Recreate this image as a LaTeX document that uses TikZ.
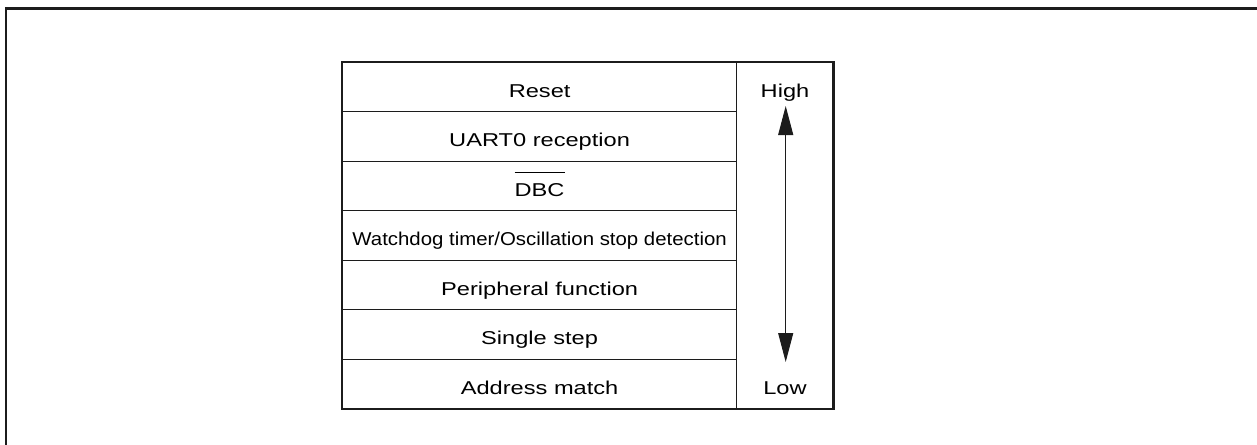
\documentclass[tikz,border=0pt]{standalone}
\usepackage{fontspec}
\setmainfont{Liberation Sans}[FakeStretch=1.27]
\newfontfamily\condensed{Liberation Sans}[FakeStretch=1.096]
\usetikzlibrary{arrows.meta}
\definecolor{ink}{HTML}{1C1C1C}
% text with a bar drawn well above the capitals
\newcommand\ovbar[1]{\setbox0\hbox{#1}\rlap{\rule[22.8pt]{\wd0}{1pt}}\box0}

\begin{document}
\begin{tikzpicture}[x=1pt,y=-1pt,
  labelfont/.style={font=\fontsize{18.6}{22}\selectfont},
  cell/.style={draw=ink, line width=1pt, minimum width=394.2pt, minimum height=49.5pt,
    inner sep=0pt, text height=20.5pt, text depth=0pt, labelfont},
  levelcol/.style={draw=ink, line width=1.2pt, minimum width=96.3pt, minimum height=346.5pt, inner sep=0pt},
  level/.style={anchor=base, inner sep=0pt, labelfont},
  levelarrow/.style={ink, line width=1pt,
    {Triangle[length=29pt,width=15pt]}-{Triangle[length=29pt,width=15pt]}}]
\useasboundingbox (0,0) rectangle (1257,444);

% frame
\draw[ink, line width=2.4pt, line join=miter] (6,447) -- (6,8.5) -- (1260,8.5);

% priority list
\node[cell] (c1) at (539.6,86.75)  {Reset};
\node[cell] (c2) at (539.6,136.25) {UART0 reception};
\node[cell] (c3) at (539.6,185.75) {\ovbar{DBC}};
\node[cell] (c4) at (539.6,235.25) {\condensed Watchdog timer/Oscillation stop detection};
\node[cell] (c5) at (539.6,284.75) {Peripheral function};
\node[cell] (c6) at (539.6,334.25) {Single step};
\node[cell] (c7) at (539.6,383.75) {Address match};

% level column
\node[levelcol] (col) at (784.85,235.25) {};
\node[level] (hi) at (785,97) {High};
\node[level] (lo) at (785,394) {Low};
\coordinate (up) at (785.7,106);
\coordinate (down) at (785.7,362);
\draw[levelarrow] (up) -- (down);

% outer border of the table
\draw[ink, line width=1.8pt] (c1.north west) rectangle (col.south east);
\end{tikzpicture}
\end{document}
